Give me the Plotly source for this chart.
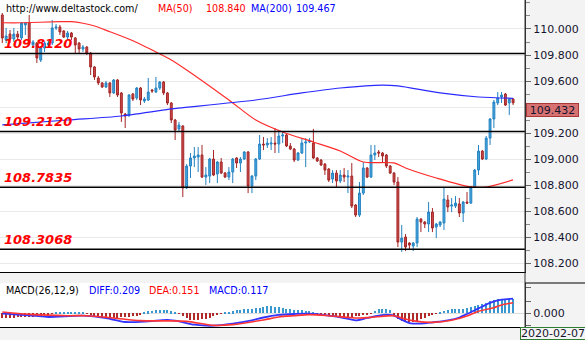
import plotly.graph_objects as go

# ---------------- data ----------------
idx = list(range(134))
opens = [110.108,109.915,109.961,109.923,109.961,109.931,110.031,110.046,109.877,109.892,
         109.761,109.854,109.877,109.892,110.008,110.015,109.985,109.938,109.969,109.931,
         109.892,109.846,109.861,109.815,109.708,109.623,109.585,109.554,109.585,109.508,
         109.608,109.508,109.346,109.338,109.500,109.469,109.546,109.446,109.454,109.531,
         109.515,109.546,109.592,109.508,109.431,109.300,109.231,109.254,108.777,108.946,
         109.008,109.015,109.031,108.861,108.869,109.000,108.885,108.977,108.892,108.861,
         108.900,109.008,108.969,109.000,109.054,108.792,108.869,109.000,109.115,109.108,
         109.115,109.123,109.115,109.177,109.185,109.100,109.077,108.992,109.046,109.123,
         109.131,109.123,109.008,108.992,108.961,108.923,108.846,108.892,108.831,108.877,
         108.861,108.869,108.646,108.569,108.738,108.931,108.861,109.031,109.054,109.046,
         109.031,108.946,108.892,108.823,108.361,108.400,108.354,108.331,108.354,108.538,
         108.515,108.500,108.592,108.477,108.492,108.508,108.685,108.638,108.638,108.654,
         108.585,108.669,108.661,108.785,108.915,109.061,109.000,109.161,109.308,109.431,
         109.477,109.500,109.431,109.461]
highs = [110.123,110.008,109.992,110.008,109.985,110.054,110.054,110.108,109.915,109.900,
         109.869,109.908,109.915,110.069,110.038,110.031,109.992,109.985,109.977,109.938,
         109.900,109.877,109.869,109.823,109.715,109.638,109.592,109.600,109.592,109.615,
         109.615,109.515,109.354,109.500,109.508,109.554,109.554,109.477,109.623,109.538,
         109.631,109.600,109.600,109.515,109.438,109.308,109.285,109.261,108.961,109.046,
         109.092,109.092,109.108,108.938,109.008,109.069,108.985,109.008,108.900,108.938,
         109.008,109.015,109.015,109.061,109.061,108.877,109.008,109.185,109.169,109.161,
         109.169,109.238,109.208,109.208,109.192,109.123,109.085,109.054,109.154,109.161,
         109.161,109.231,109.015,109.000,108.969,108.931,108.915,108.915,108.915,108.931,
         108.915,108.969,108.654,108.823,108.977,108.938,109.108,109.108,109.069,109.054,
         109.038,108.954,108.900,108.861,108.492,108.423,108.361,108.361,108.554,108.546,
         108.523,108.669,108.623,108.508,108.523,108.777,108.723,108.700,108.715,108.700,
         108.677,108.746,108.792,108.923,109.108,109.069,109.177,109.315,109.454,109.515,
         109.515,109.508,109.469,109.469]
lows = [109.892,109.892,109.892,109.900,109.915,109.915,109.954,109.877,109.854,109.738,
        109.746,109.823,109.861,109.877,109.992,109.954,109.931,109.915,109.915,109.815,
        109.815,109.823,109.800,109.646,109.608,109.569,109.546,109.546,109.477,109.500,
        109.477,109.285,109.238,109.323,109.446,109.454,109.415,109.431,109.446,109.508,
        109.508,109.531,109.492,109.415,109.277,109.146,109.215,108.708,108.769,108.854,
        108.938,108.900,108.854,108.800,108.815,108.869,108.815,108.885,108.854,108.838,
        108.815,108.931,108.900,108.992,108.738,108.738,108.838,108.992,109.069,109.085,
        109.069,109.046,109.046,109.123,109.092,109.069,108.977,108.985,109.038,108.938,
        109.123,109.000,108.977,108.946,108.877,108.823,108.815,108.777,108.815,108.823,
        108.738,108.623,108.554,108.554,108.723,108.854,108.854,108.992,109.015,108.977,
        108.931,108.885,108.800,108.323,108.285,108.292,108.300,108.292,108.323,108.438,
        108.469,108.438,108.438,108.392,108.477,108.454,108.592,108.592,108.623,108.554,
        108.515,108.654,108.654,108.777,108.877,108.992,108.992,109.108,109.238,109.415,
        109.431,109.408,109.338,109.415]
closes = [109.931,109.946,109.923,109.961,109.938,110.046,110.046,109.892,109.900,109.777,
          109.854,109.892,109.892,110.008,110.015,109.977,109.938,109.969,109.938,109.877,
          109.846,109.861,109.815,109.708,109.631,109.585,109.554,109.585,109.508,109.608,
          109.492,109.354,109.331,109.492,109.461,109.546,109.454,109.461,109.515,109.523,
          109.546,109.592,109.508,109.431,109.300,109.223,109.261,108.777,108.946,109.008,
          109.023,109.031,108.861,108.877,109.000,108.877,108.977,108.892,108.861,108.900,
          109.000,108.969,109.000,109.054,108.792,108.869,109.000,109.115,109.108,109.123,
          109.123,109.115,109.177,109.185,109.100,109.077,108.992,109.046,109.123,109.131,
          109.138,109.008,108.985,108.954,108.915,108.838,108.892,108.831,108.877,108.861,
          108.869,108.638,108.569,108.738,108.931,108.861,109.031,109.046,109.046,109.023,
          108.946,108.892,108.823,108.361,108.392,108.323,108.338,108.354,108.538,108.515,
          108.500,108.592,108.469,108.500,108.515,108.692,108.631,108.646,108.661,108.585,
          108.669,108.661,108.785,108.915,109.061,109.000,109.161,109.308,109.438,109.469,
          109.492,109.415,109.461,109.432]

ma50_idx = [0, 5, 15, 18, 21, 24, 28, 34, 39, 44, 48, 59, 66, 73, 81, 88, 94, 102, 105, 113, 122, 126, 133]
ma50_val = [110.048, 110.048, 110.056, 110.056, 110.044, 110.023, 109.979, 109.910, 109.838, 109.762,
            109.685, 109.454, 109.300, 109.208, 109.131, 109.062, 108.977, 108.970, 108.931, 108.854,
            108.785, 108.785, 108.840]
ma200_idx = [0, 17, 31, 44, 46, 66, 78, 88, 99, 103, 114, 124, 133]
ma200_val = [109.262, 109.300, 109.331, 109.385, 109.392, 109.454, 109.508, 109.546, 109.569, 109.562,
             109.508, 109.477, 109.467]

levels = [109.8120, 109.2120, 108.7835, 108.3068]
level_labels = ["109.8120", "109.2120", "108.7835", "108.3068"]

price_ticks = [108.2, 108.4, 108.6, 108.8, 109.0, 109.2, 109.4, 109.6, 109.8, 110.0]
price_tick_text = ["108.200", "108.400", "108.600", "108.800", "109.000", "109.200", "",
                   "109.600", "109.800", "110.000"]

diff_idx = [0, 8, 12, 21, 27, 32, 38, 43, 46, 50, 55, 60, 65, 68, 72, 76, 80, 85, 89, 92, 95, 98, 100,
            102, 104, 106, 109, 112, 116, 119, 121, 124, 127, 130, 133]
diff_val = [-0.005, -0.034, -0.053, -0.034, -0.067, -0.124, -0.115, -0.095, -0.115, -0.162, -0.177,
            -0.148, -0.100, -0.060, -0.024, -0.010, -0.005, -0.034, -0.067, -0.100, -0.067, -0.034,
            -0.019, -0.034, -0.091, -0.139, -0.148, -0.129, -0.100, -0.060, -0.010, 0.070, 0.150,
            0.195, 0.209]
dea_idx = [0, 8, 17, 22, 29, 36, 43, 48, 55, 60, 68, 72, 76, 80, 85, 90, 93, 97, 102, 104, 108, 112,
           117, 121, 124, 128, 130, 133]
dea_val = [0.019, -0.019, -0.034, -0.034, -0.067, -0.105, -0.108, -0.115, -0.172, -0.162, -0.095,
           -0.053, -0.034, -0.019, -0.034, -0.058, -0.067, -0.053, -0.034, -0.067, -0.115, -0.129,
           -0.100, -0.040, 0.030, 0.080, 0.120, 0.151]
macd_hist = [-0.035, -0.038, -0.038, -0.036,
             -0.034, -0.033, -0.032, -0.030, -0.028,
             -0.026, -0.022, -0.018, -0.012,
             -0.004,
             0.006, 0.008, 0.010, 0.010, 0.008, 0.008, 0.006, 0.004,
             -0.004,
             -0.012, -0.020, -0.026, -0.030, -0.034, -0.036, -0.036, -0.035, -0.034, -0.032, -0.030,
             -0.026, -0.020, -0.012,
             0.008, 0.016, 0.022, 0.026, 0.028, 0.028, 0.024, 0.016,
             0.004, -0.004,
             -0.020, -0.040, -0.052, -0.056, -0.055, -0.050, -0.044, -0.036, -0.026,
             -0.012, -0.004, 0.004, 0.010,
             0.016, 0.024, 0.030, 0.034, 0.038, 0.040, 0.042, 0.046,
             0.056, 0.062, 0.062, 0.056, 0.056, 0.048, 0.040,
             0.032, 0.030, 0.026, 0.024, 0.022, 0.018, 0.010,
             -0.004, -0.014, -0.020, -0.026, -0.030, -0.033, -0.035, -0.035, -0.034, -0.030, -0.026,
             -0.020, -0.014, -0.008, -0.002,
             0.020, 0.035, 0.040, 0.036, 0.026,
             -0.015, -0.050, -0.068, -0.075, -0.075, -0.070, -0.062, -0.050, -0.036, -0.022,
             -0.010, -0.004, 0.004,
             0.018, 0.026, 0.032, 0.036, 0.038, 0.040, 0.042,
             0.052, 0.062, 0.070, 0.078, 0.090, 0.100, 0.110, 0.116, 0.120, 0.122, 0.120, 0.117]

last_price = 109.432
ma50_last = "108.840"
ma200_last = "109.467"
diff_last, dea_last, macd_last = "0.209", "0.151", "0.117"
date_label = "2020-02-07"

# ---------------- styling ----------------
W, H = 585, 340
PLOT_R = 525
def px(x):
    return x / W
def py(y):
    return 1 - y / H

BLUE_FILL, BLUE_LINE = "#46a7dd", "#2482c2"
RED_FILL, RED_LINE = "#cb4b4b", "#a52626"
FONT = "DejaVu Sans"
TXT = "#14142e"

fig = go.Figure()

fig.add_trace(go.Candlestick(
    x=idx, open=opens, high=highs, low=lows, close=closes,
    xaxis="x", yaxis="y", whiskerwidth=0,
    increasing=dict(line=dict(color=BLUE_LINE, width=1), fillcolor=BLUE_FILL),
    decreasing=dict(line=dict(color=RED_LINE, width=1), fillcolor=RED_FILL),
    showlegend=False, hoverinfo="skip"))

fig.add_trace(go.Scatter(x=ma50_idx, y=ma50_val, mode="lines", xaxis="x", yaxis="y",
                         line=dict(color="#ff2b2b", width=1.2, shape="spline", smoothing=0.8),
                         showlegend=False, hoverinfo="skip"))
fig.add_trace(go.Scatter(x=ma200_idx, y=ma200_val, mode="lines", xaxis="x", yaxis="y",
                         line=dict(color="#2a2aff", width=1.2, shape="spline", smoothing=0.8),
                         showlegend=False, hoverinfo="skip"))

# MACD histogram (own scale) and DIFF / DEA lines
fig.add_trace(go.Bar(x=idx, y=macd_hist, xaxis="x2", yaxis="y2", width=0.3,
                     marker=dict(color=["#3a98d0" if v >= 0 else "#b02a2a" for v in macd_hist],
                                 line=dict(width=0)),
                     showlegend=False, hoverinfo="skip"))
fig.add_trace(go.Scatter(x=diff_idx, y=diff_val, mode="lines", xaxis="x2", yaxis="y3",
                         line=dict(color="#3434ff", width=1.8, shape="spline", smoothing=0.8),
                         showlegend=False, hoverinfo="skip"))
fig.add_trace(go.Scatter(x=dea_idx, y=dea_val, mode="lines", xaxis="x2", yaxis="y3",
                         line=dict(color="#ff3434", width=1.6, shape="spline", smoothing=0.8),
                         showlegend=False, hoverinfo="skip"))

xr = [-0.6, 136.1]
xdom = [0, px(PLOT_R)]
axis_font = dict(family=FONT, size=11, color=TXT)

shapes = []
annotations = []

# level lines & labels
for lv, lab in zip(levels, level_labels):
    shapes.append(dict(type="line", xref="paper", yref="y", x0=0, x1=px(PLOT_R), y0=lv, y1=lv,
                       line=dict(color="black", width=1.5), layer="above"))
    annotations.append(dict(xref="paper", yref="y", x=px(2), y=lv, xanchor="left", yanchor="bottom",
                            text=lab, showarrow=False, yshift=0.5,
                            font=dict(family=FONT, size=13, color="#ff0000",
                                      weight="bold", style="italic")))

# extra border lines
shapes.append(dict(type="line", xref="paper", yref="paper", x0=px(PLOT_R), x1=px(PLOT_R),
                   y0=py(327), y1=1, line=dict(color="#333333", width=1)))
shapes.append(dict(type="line", xref="paper", yref="paper", x0=px(PLOT_R), x1=1,
                   y0=py(283), y1=py(283), line=dict(color="black", width=1)))
shapes.append(dict(type="line", xref="paper", yref="paper", x0=0, x1=1,
                   y0=py(327.5), y1=py(327.5), line=dict(color="black", width=1)))

# header texts
def head(x, y, text, color):
    annotations.append(dict(xref="paper", yref="paper", x=px(x), y=py(y), xanchor="left",
                            yanchor="middle", text=text, showarrow=False,
                            font=dict(family=FONT, size=9.6, color=color)))

head(4, 8, "http://www.deltastock.com/", "#000000")
head(156, 8, "MA(50)", "#ff0000")
head(204, 8, ma50_last, "#ff0000")
head(249, 8, "MA(200)", "#0000ff")
head(294, 8, ma200_last, "#0000ff")
head(4, 290, "MACD(26,12,9)", "#000000")
head(87, 290, "DIFF:" + diff_last, "#0000ff")
head(147, 290, "DEA:" + dea_last, "#ff0000")
head(207, 290, "MACD:" + macd_last, "#0000ff")

# current price box
annotations.append(dict(xref="paper", yref="y", x=px(PLOT_R + 1), y=last_price, xanchor="left",
                        yanchor="top", text=f"{last_price:.3f}", showarrow=False,
                        bgcolor="#d77272", bordercolor="#a83838", borderwidth=1, borderpad=0,
                        width=51, height=12, align="center",
                        font=dict(family=FONT, size=11, color=TXT)))
# date box
annotations.append(dict(xref="paper", yref="paper", x=px(520), y=py(327), xanchor="left",
                        yanchor="top", text=date_label, showarrow=False,
                        bgcolor="#f4f4f4", bordercolor="#2e7d32", borderwidth=1, borderpad=0,
                        width=68, height=11, align="left",
                        font=dict(family=FONT, size=11, color=TXT)))

fig.update_layout(
    width=W, height=H, margin=dict(l=0, r=0, t=0, b=0),
    paper_bgcolor="#f3f3f3", plot_bgcolor="white",
    showlegend=False, bargap=0,
    xaxis=dict(domain=xdom, range=xr, anchor="y", showticklabels=False, showgrid=False,
               zeroline=False, showline=True, linecolor="black", linewidth=1, ticks="",
               rangeslider=dict(visible=False)),
    yaxis=dict(domain=[py(272), 1], range=[108.131, 110.223], anchor="x", side="right",
               tickmode="array", tickvals=price_ticks, ticktext=price_tick_text,
               ticks="outside", ticklen=5, tickcolor="#666666", showline=True,
               linecolor="#333333", linewidth=1, showgrid=True, gridcolor="#e9e9e9",
               zeroline=False, tickfont=axis_font,
               minor=dict(tickmode="linear", dtick=0.1, tick0=108.0, ticks="outside", ticklen=4,
                          tickcolor="#888888", showgrid=False)),
    xaxis2=dict(domain=xdom, range=xr, anchor="y2", showticklabels=False, showgrid=False,
                zeroline=False, showline=True, linecolor="black", linewidth=1, ticks=""),
    yaxis2=dict(domain=[py(327), py(283)], range=[-0.1142, 0.2525], anchor="x2", side="right",
                tickmode="array", tickvals=[-0.0975, 0, 0.1025, 0.211],
                ticktext=["", "0.000", "", ""], ticks="outside", ticklen=5,
                tickcolor="#666666", showline=True, linecolor="#333333", linewidth=1,
                showgrid=False, zeroline=True, zerolinecolor="#dedede", zerolinewidth=1,
                tickfont=axis_font),
    yaxis3=dict(overlaying="y2", range=[-0.1957, 0.4329], visible=False, anchor="x2"),
    shapes=shapes, annotations=annotations,
)

fig.write_html("out.html")
